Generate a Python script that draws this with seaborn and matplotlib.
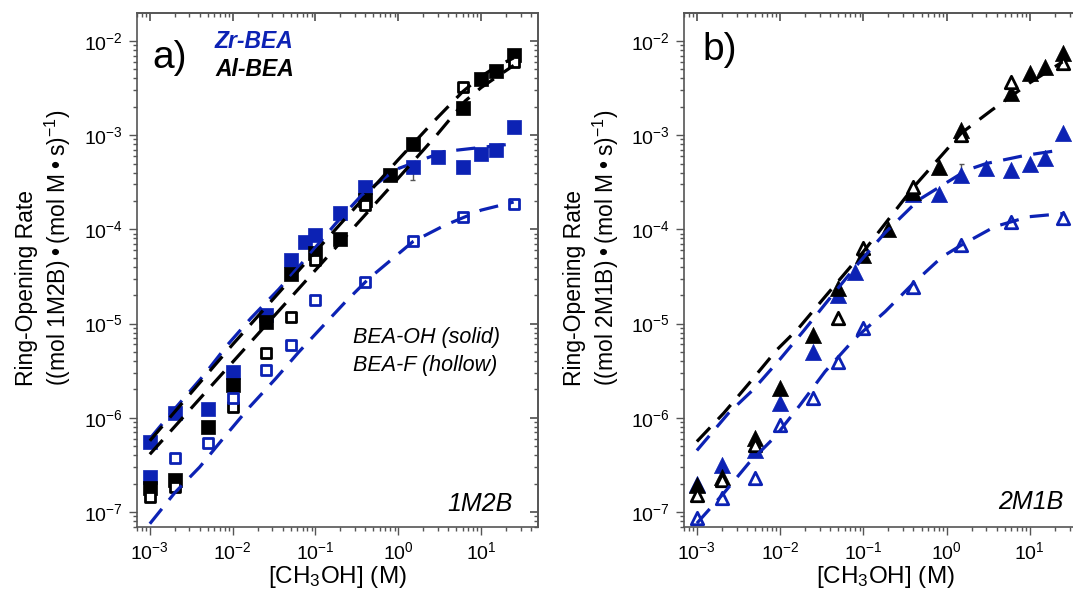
import numpy as np
import pandas as pd
import matplotlib
matplotlib.use("Agg")
import matplotlib.pyplot as plt
import seaborn as sns
from matplotlib.ticker import LogLocator, NullFormatter

# ---------------- data ----------------
# Panel a (1M2B)
a_x_blue_oh = [0.001, 0.001, 0.002, 0.005, 0.01, 0.025, 0.05, 0.075, 0.1, 0.2, 0.4, 1.5, 3, 6, 10, 15, 24.7]
a_y_blue_oh = [5.6e-7, 2.35e-7, 1.12e-6, 1.23e-6, 3.08e-6, 1.23e-5, 4.7e-5, 7.4e-5, 8.7e-5, 1.49e-4, 2.84e-4, 4.63e-4, 5.9e-4, 4.6e-4, 6.3e-4, 7.0e-4, 1.21e-3]
a_x_black_oh = [0.001, 0.002, 0.005, 0.01, 0.025, 0.05, 0.1, 0.2, 0.4, 0.8, 1.5, 6, 10, 15, 24.7]
a_y_black_oh = [1.79e-7, 2.19e-7, 8.0e-7, 2.23e-6, 1.05e-5, 3.36e-5, 5.6e-5, 7.85e-5, 2.05e-4, 3.78e-4, 8.07e-4, 1.93e-3, 3.92e-3, 4.84e-3, 7.1e-3]
a_x_black_f = [0.001, 0.002, 0.01, 0.025, 0.05, 0.1, 0.4, 6, 24.7]
a_y_black_f = [1.45e-7, 1.83e-7, 1.31e-6, 4.9e-6, 1.18e-5, 4.7e-5, 1.8e-4, 3.24e-3, 6.0e-3]
a_x_blue_f = [0.002, 0.005, 0.01, 0.025, 0.05, 0.1, 0.4, 1.5, 6, 24.7]
a_y_blue_f = [3.7e-7, 5.45e-7, 1.61e-6, 3.2e-6, 5.93e-6, 1.78e-5, 2.78e-5, 7.59e-5, 1.36e-4, 1.86e-4]

a_fit_x_blue_oh = [0.001, 0.0021, 0.0045, 0.0087, 0.0166, 0.036, 0.073, 0.175, 0.36, 0.92, 3.6, 24.7]
a_fit_y_blue_oh = [6.0e-7, 1.31e-6, 2.84e-6, 5.97e-6, 1.14e-5, 2.31e-5, 4.66e-5, 1.15e-4, 2.3e-4, 4.3e-4, 6.7e-4, 8.1e-4]
a_fit_x_black_oh = [0.001, 0.01, 0.1, 1, 2.66, 6, 10, 15, 24.7]
a_fit_y_black_oh = [5.7e-7, 6.0e-6, 5.8e-5, 5.5e-4, 1.39e-3, 2.9e-3, 4.2e-3, 5.3e-3, 6.6e-3]
a_fit_x_black_f = [0.001, 0.01, 0.1, 1, 2.9, 6.4, 10, 24.7]
a_fit_y_black_f = [4.1e-7, 3.9e-6, 3.7e-5, 3.5e-4, 1.0e-3, 2.3e-3, 3.2e-3, 5.5e-3]
a_fit_x_blue_f = [0.001, 0.002, 0.004, 0.008, 0.016, 0.033, 0.063, 0.12, 0.23, 0.44, 1.5, 3.6, 10, 24.7]
a_fit_y_blue_f = [7.5e-8, 1.6e-7, 3.0e-7, 6.3e-7, 1.3e-6, 2.6e-6, 5.0e-6, 9.2e-6, 1.7e-5, 3.0e-5, 7.4e-5, 1.1e-4, 1.6e-4, 1.95e-4]

# Panel b (2M1B)
b_x_blue_oh = [0.001, 0.002, 0.005, 0.01, 0.025, 0.05, 0.08, 0.4, 0.8, 1.5, 3, 6, 10, 15, 24.7]
b_y_blue_oh = [2.0e-7, 3.16e-7, 4.5e-7, 1.43e-6, 5.0e-6, 2.0e-5, 3.55e-5, 2.4e-4, 2.4e-4, 3.8e-4, 4.45e-4, 4.26e-4, 5.0e-4, 5.7e-4, 1.05e-3]
b_x_black_oh = [0.001, 0.002, 0.005, 0.01, 0.025, 0.05, 0.1, 0.2, 0.4, 0.8, 1.5, 6, 10, 15, 24.7]
b_y_black_oh = [1.94e-7, 2.37e-7, 6.1e-7, 2.06e-6, 7.6e-6, 2.37e-5, 5.3e-5, 1.0e-4, 2.5e-4, 4.6e-4, 1.13e-3, 2.8e-3, 4.6e-3, 5.3e-3, 7.4e-3]
b_x_black_f = [0.001, 0.002, 0.005, 0.05, 0.1, 0.4, 1.5, 6, 24.7]
b_y_black_f = [1.51e-7, 2.2e-7, 5.1e-7, 1.14e-5, 6.3e-5, 2.8e-4, 1.0e-3, 3.7e-3, 5.8e-3]
b_x_blue_f = [0.001, 0.002, 0.005, 0.01, 0.025, 0.05, 0.1, 0.4, 1.5, 6, 24.7]
b_y_blue_f = [8.6e-8, 1.4e-7, 2.28e-7, 8.4e-7, 1.61e-6, 3.94e-6, 8.9e-6, 2.47e-5, 6.8e-5, 1.21e-4, 1.31e-4]

b_fit_x_black = [0.001, 0.0021, 0.0042, 0.0091, 0.0166, 0.0347, 0.1, 0.4, 1.5, 3.5, 6, 10, 24.7]
b_fit_y_black = [5.6e-7, 1.12e-6, 2.3e-6, 5.25e-6, 8.9e-6, 1.93e-5, 5.8e-5, 2.8e-4, 1.05e-3, 1.85e-3, 2.6e-3, 3.6e-3, 6.0e-3]
b_fit_x_blue_oh = [0.001, 0.0024, 0.0047, 0.01, 0.019, 0.044, 0.088, 0.18, 0.46, 1.75, 3, 8.8, 24.7]
b_fit_y_blue_oh = [4.5e-7, 1.12e-6, 1.97e-6, 4.2e-6, 8.3e-6, 2.09e-5, 4.4e-5, 9.1e-5, 2.05e-4, 4.26e-4, 5.0e-4, 6.1e-4, 7.0e-4]
b_fit_x_blue_f = [0.001, 0.0021, 0.0042, 0.0087, 0.0174, 0.0347, 0.08, 0.183, 0.38, 0.88, 1.5, 3.8, 9.6, 24.7]
b_fit_y_blue_f = [7.6e-8, 1.58e-7, 3.3e-7, 6.3e-7, 1.37e-6, 3.1e-6, 7.0e-6, 1.34e-5, 2.57e-5, 5.1e-5, 6.8e-5, 1.07e-4, 1.36e-4, 1.47e-4]

# error bars (x, value, low, high)
a_err = [(1.5, 4.63e-4, 3.34e-4, 4.63e-4)]
b_err = [(1.5, 3.8e-4, 3.8e-4, 5.0e-4)]

# ---------------- style ----------------
sns.set_theme(style="ticks")
plt.rcParams["font.family"] = ["Liberation Sans", "DejaVu Sans"]
plt.rcParams["mathtext.fontset"] = "custom"
plt.rcParams["mathtext.rm"] = "Liberation Sans"
plt.rcParams["mathtext.it"] = "Liberation Sans:italic"
plt.rcParams["mathtext.bf"] = "Liberation Sans:bold"
plt.rcParams["text.color"] = "black"
plt.rcParams["axes.labelcolor"] = "black"
plt.rcParams["xtick.labelcolor"] = "black"
plt.rcParams["ytick.labelcolor"] = "black"

BLUE = "#0c22b4"
BLACK = "#000000"
GREY = "#555555"

W, H = 1073, 610
fig = plt.figure(figsize=(W / 100, H / 100), dpi=100)

def px_rect(l, t, r, b):
    return [l / W, 1 - b / H, (r - l) / W, (b - t) / H]

ax_a = fig.add_axes(px_rect(137, 13, 538, 527))
ax_b = fig.add_axes(px_rect(684, 13, 1087, 527))

XLIM = (7.0e-4, 48.6)
YLIM = (6.93e-8, 1.98e-2)

def scatter(ax, x, y, color, marker, hollow, size):
    df = pd.DataFrame({"x": x, "y": y})
    if hollow:
        sns.scatterplot(data=df, x="x", y="y", ax=ax, marker=marker, s=size,
                        facecolor="white", edgecolor=color, linewidth=2.0, zorder=4)
    else:
        sns.scatterplot(data=df, x="x", y="y", ax=ax, marker=marker, s=size,
                        color=color, edgecolor=color, linewidth=0.5, zorder=3)

def fit(ax, x, y, color):
    df = pd.DataFrame({"x": x, "y": y})
    sns.lineplot(data=df, x="x", y="y", ax=ax, color=color, linewidth=2.3,
                 linestyle=(0, (6, 3.6)), sort=False, estimator=None, zorder=5)

def style_axes(ax):
    ax.set_xscale("log")
    ax.set_yscale("log")
    ax.set_xlim(*XLIM)
    ax.set_ylim(*YLIM)
    ax.set_xlabel("")
    ax.set_ylabel("")
    for sp in ax.spines.values():
        sp.set_visible(True)
        sp.set_color(GREY)
        sp.set_linewidth(1.2)
    ax.xaxis.set_major_locator(LogLocator(base=10, numticks=20))
    ax.yaxis.set_major_locator(LogLocator(base=10, numticks=20))
    ax.xaxis.set_minor_locator(LogLocator(base=10, subs=np.arange(2, 10), numticks=20))
    ax.yaxis.set_minor_locator(LogLocator(base=10, subs=np.arange(2, 10), numticks=20))
    ax.xaxis.set_minor_formatter(NullFormatter())
    ax.yaxis.set_minor_formatter(NullFormatter())
    ax.tick_params(which="both", direction="out", color=GREY, width=1.0,
                   labelsize=14, labelcolor="black", top=False, right=False)
    ax.tick_params(which="major", length=6, pad=4)
    ax.tick_params(which="minor", length=3)
    # inward ticks on top & right
    sx = ax.secondary_xaxis("top", functions=(lambda v: v, lambda v: v))
    sx.xaxis.set_major_locator(LogLocator(base=10, numticks=20))
    sx.xaxis.set_minor_locator(LogLocator(base=10, subs=np.arange(2, 10), numticks=20))
    sx.tick_params(which="both", direction="in", color=GREY, labeltop=False)
    sx.tick_params(which="major", length=6)
    sx.tick_params(which="minor", length=3)
    sx.xaxis.set_minor_formatter(NullFormatter())
    sy = ax.secondary_yaxis("right", functions=(lambda v: v, lambda v: v))
    sy.yaxis.set_major_locator(LogLocator(base=10, numticks=20))
    sy.yaxis.set_minor_locator(LogLocator(base=10, subs=np.arange(2, 10), numticks=20))
    sy.tick_params(which="both", direction="in", color=GREY, labelright=False)
    sy.tick_params(which="major", length=6)
    sy.tick_params(which="minor", length=3)
    sy.yaxis.set_minor_formatter(NullFormatter())
    for s in (sx, sy):
        for sp in s.spines.values():
            sp.set_color(GREY)
            sp.set_linewidth(1.2)

# ---------- panel a ----------
SQ = 90
SQH = 52
scatter(ax_a, a_x_blue_oh, a_y_blue_oh, BLUE, "s", False, SQ)
scatter(ax_a, a_x_black_oh, a_y_black_oh, BLACK, "s", False, SQ)
scatter(ax_a, a_x_black_f, a_y_black_f, BLACK, "s", True, SQH)
scatter(ax_a, a_x_blue_f, a_y_blue_f, BLUE, "s", True, SQH)
fit(ax_a, a_fit_x_blue_oh, a_fit_y_blue_oh, BLUE)
fit(ax_a, a_fit_x_black_oh, a_fit_y_black_oh, BLACK)
fit(ax_a, a_fit_x_black_f, a_fit_y_black_f, BLACK)
fit(ax_a, a_fit_x_blue_f, a_fit_y_blue_f, BLUE)
for x, v, lo, hi in a_err:
    ax_a.vlines(x, lo, hi, color=GREY, lw=1.0, zorder=2)
    ax_a.hlines([lo, hi], x * 0.93, x * 1.075, color=GREY, lw=1.0, zorder=2)

# ---------- panel b ----------
TR = 135
TRH = 80
scatter(ax_b, b_x_blue_oh, b_y_blue_oh, BLUE, "^", False, TR)
scatter(ax_b, b_x_black_oh, b_y_black_oh, BLACK, "^", False, TR)
scatter(ax_b, b_x_black_f, b_y_black_f, BLACK, "^", True, TRH)
scatter(ax_b, b_x_blue_f, b_y_blue_f, BLUE, "^", True, TRH)
fit(ax_b, b_fit_x_black, b_fit_y_black, BLACK)
fit(ax_b, b_fit_x_blue_oh, b_fit_y_blue_oh, BLUE)
fit(ax_b, b_fit_x_blue_f, b_fit_y_blue_f, BLUE)
for x, v, lo, hi in b_err:
    ax_b.vlines(x, lo, hi, color=GREY, lw=1.0, zorder=2)
    ax_b.hlines([lo, hi], x * 0.93, x * 1.075, color=GREY, lw=1.0, zorder=2)

style_axes(ax_a)
style_axes(ax_b)

# ---------- text ----------
def ftext(x, y, s, **kw):
    fig.text(x / W, 1 - y / H, s, **kw)

ftext(152, 58, "a)", fontsize=28, ha="left", va="center")
ftext(215, 41, "Zr-BEA", fontsize=16.5, ha="left", va="center", color=BLUE,
      fontweight="bold", fontstyle="italic")
ftext(215, 70, "Al-BEA", fontsize=16.5, ha="left", va="center", color=BLACK,
      fontweight="bold", fontstyle="italic")
ftext(353, 338, "BEA-OH (solid)", fontsize=15.5, ha="left", va="center", fontstyle="italic")
ftext(353, 365, "BEA-F (hollow)", fontsize=15.5, ha="left", va="center", fontstyle="italic")
ftext(513, 504, "1M2B", fontsize=18, ha="right", va="center", fontstyle="italic")
ftext(702, 50, "b)", fontsize=28, ha="left", va="center")
ftext(1063, 502, "2M1B", fontsize=18, ha="right", va="center", fontstyle="italic")

ylab_a = "Ring-Opening Rate\n((mol 1M2B)\u2009\u2022\u2009(mol M\u2009\u2022\u2009s)$^{-1}$)"
ylab_b = "Ring-Opening Rate\n((mol 2M1B)\u2009\u2022\u2009(mol M\u2009\u2022\u2009s)$^{-1}$)"
ftext(44, 248, ylab_a, fontsize=16.5, rotation=90, ha="center", va="center",
      multialignment="left", linespacing=1.2)
ftext(592, 248, ylab_b, fontsize=16.5, rotation=90, ha="center", va="center",
      multialignment="left", linespacing=1.2)

ftext(337, 577, "[CH$_3$OH] (M)", fontsize=17.5, ha="center", va="center")
ftext(885, 577, "[CH$_3$OH] (M)", fontsize=17.5, ha="center", va="center")

fig.savefig("out.png", dpi=100)
